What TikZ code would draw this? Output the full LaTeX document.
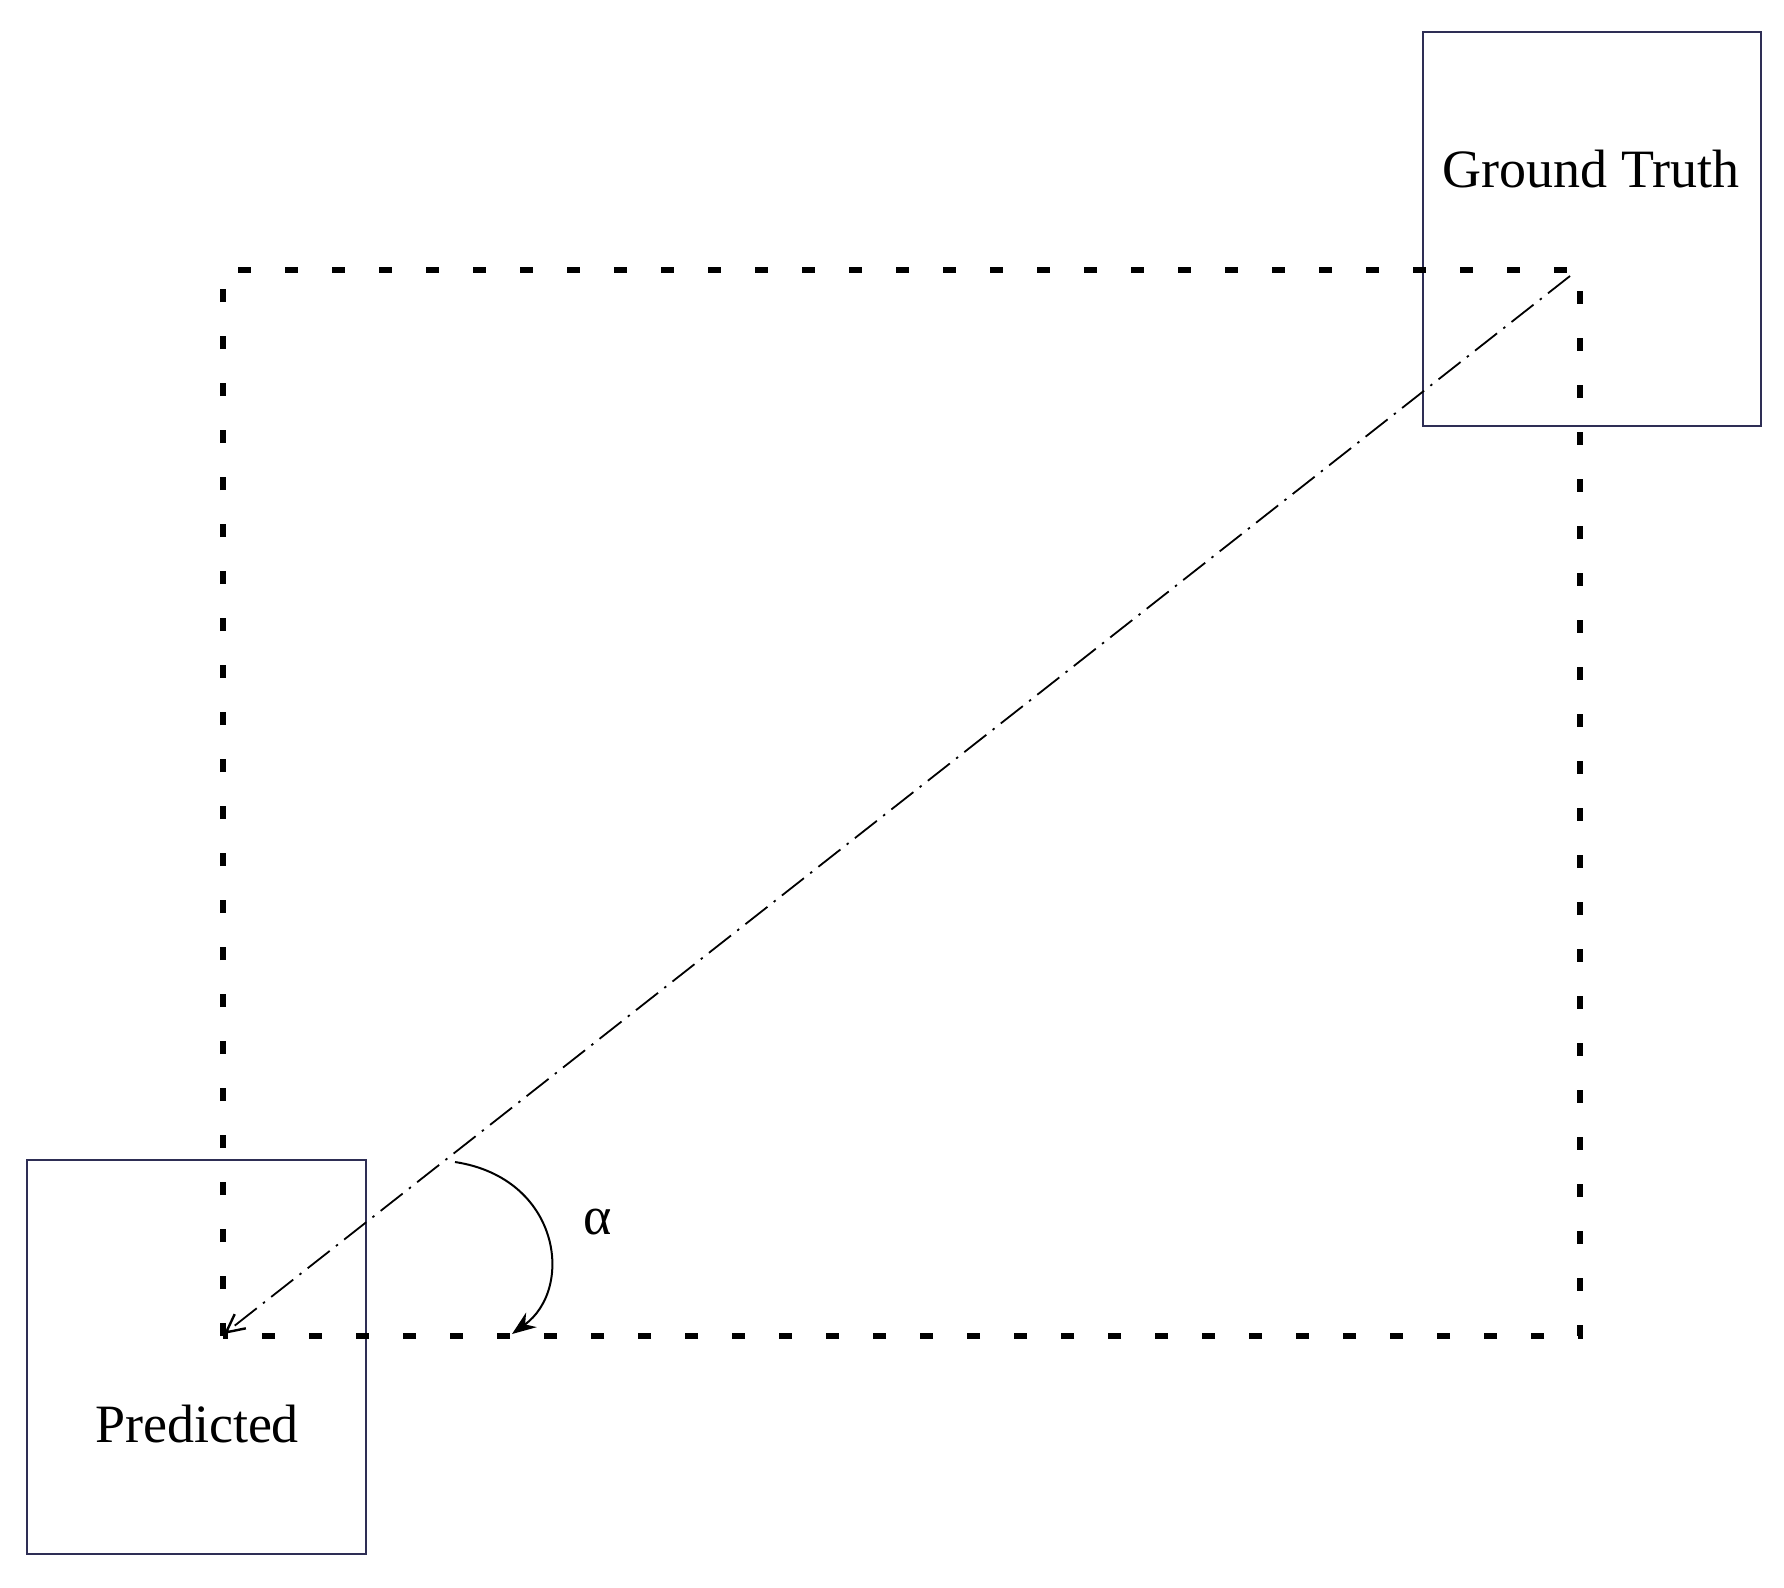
\documentclass[tikz,border=0pt]{standalone}
\usepackage{fontspec}
\setmainfont{Liberation Serif}
\usetikzlibrary{arrows.meta}
\definecolor{boxc}{HTML}{2E2E55}
\begin{document}
\begin{tikzpicture}[x=0.5pt,y=-0.5pt,
  bbox/.style={draw=boxc,line width=1.3pt},
  dotr/.style={line width=2.6pt,dash pattern=on 6.5pt off 17pt},
  diag/.style={line width=0.9pt,dash pattern=on 14pt off 4pt on 1.2pt off 4pt},
  lbl/.style={font=\fontsize{27}{30}\selectfont}]
\useasboundingbox (0,0) rectangle (1784,1587);
\draw[bbox] (1423,32) rectangle (1761,426);
\draw[bbox] (27,1160) rectangle (366,1554);
\node[lbl] (gt) at (1591,169) {Ground Truth};
\node[lbl] (pr) at (197,1424) {Predicted};
\draw[dotr] (223,1336) -- (223,270) -- (1580,270) -- (1580,1336) -- cycle;
\coordinate (a) at (1570,276);
\coordinate (b) at (224,1334);
\draw[diag,-{Straight Barb[length=9pt,width=9pt,line width=1.2pt]}] (a) -- (b);
\coordinate (c1) at (455,1162);
\coordinate (c2) at (512,1334);
\draw[line width=1pt,-{Stealth[length=12pt,width=9pt]}] (c1) .. controls (560,1178) and (575,1288) .. (c2);
\node[lbl] (al) at (598,1222) {α};
\end{tikzpicture}
\end{document}
